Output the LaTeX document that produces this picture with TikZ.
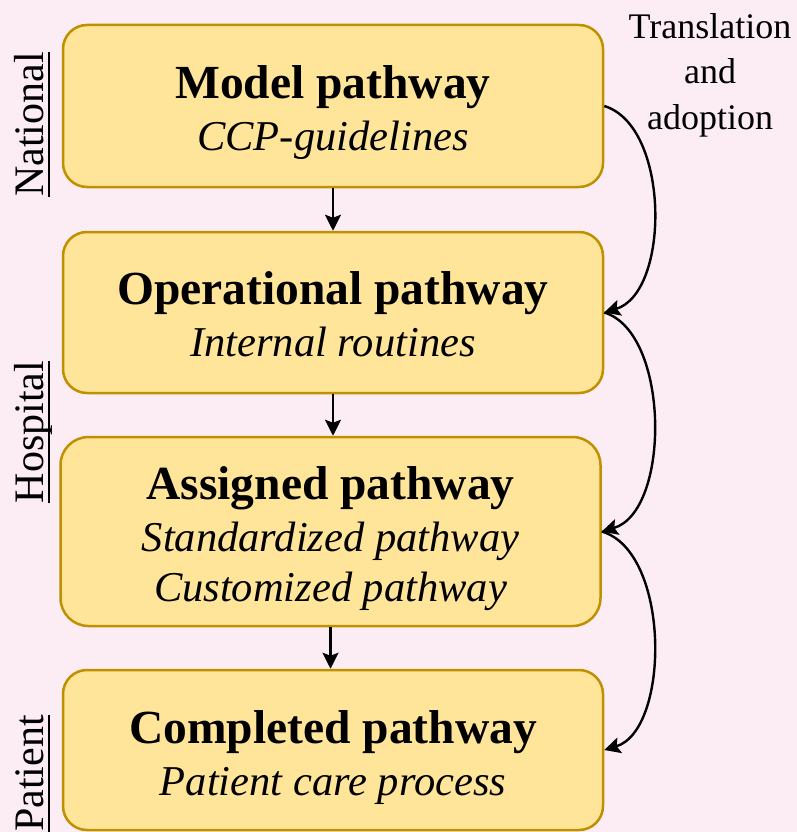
\documentclass[tikz,border=0pt]{standalone}
\usepackage{fontspec}
\setmainfont{Liberation Serif}
\usetikzlibrary{arrows.meta,calc}
\definecolor{bg}{HTML}{FCEDF5}
\definecolor{boxfill}{HTML}{FFE599}
\definecolor{boxline}{HTML}{BF9000}

\begin{document}
\begin{tikzpicture}[x=1pt,y=-1pt,
  stage/.style={draw=boxline, fill=boxfill, line width=2.5pt, inner sep=0pt, minimum width=540pt},
  title/.style={anchor=base, inner sep=0pt, font=\fontsize{47.5}{57}\selectfont\bfseries},
  sub/.style={anchor=base, inner sep=0pt, font=\fontsize{42.5}{51}\selectfont\itshape},
  level/.style={anchor=base, rotate=90, inner sep=0pt, font=\fontsize{42}{50}\selectfont},
  flow/.style={line width=2.4pt, -{Stealth[length=16pt,width=16pt,inset=3pt]}},
]
\fill[bg] (0,0) rectangle (797,832);
\useasboundingbox (0,0) rectangle (797,832);

% pathway stages
\node[stage, rounded corners=24pt, minimum height=162pt] (b1) at (333,106) {};
\node[stage, rounded corners=24pt, minimum height=161pt] (b2) at (333,312.5) {};
\node[stage, rounded corners=28pt, minimum height=189pt] (b3) at (330.5,531.5) {};
\node[stage, rounded corners=24pt, minimum height=160pt] (b4) at (333,750) {};

% stage texts
\node[title] (t1) at (333,99) {Model pathway};
\node[sub]   (s1) at (333,150) {CCP-guidelines};
\node[title] (t2) at (333,304) {Operational pathway};
\node[sub]   (s2) at (333,356) {Internal routines};
\node[title] (t3) at (330.5,499) {Assigned pathway};
\node[sub]   (s3a) at (330.5,551) {Standardized pathway};
\node[sub]   (s3b) at (330.5,601) {Customized pathway};
\node[title] (t4) at (333,743) {Completed pathway};
\node[sub]   (s4) at (333,795) {Patient care process};

% levels on the left
\node[level] (lnat) at (43,124.5) {National};
\node[level] (lhos) at (43,432) {Hospital};
\node[level] (lpat) at (43,773.5) {Patient};
\foreach \n in {lnat,lhos,lpat}
  \draw[line width=2pt] ($(\n.base west)+(6,0)$) -- ($(\n.base east)+(6,0)$);

% label of the side arrows (base = baseline of the last line)
\node[anchor=base, align=center, inner sep=0pt,
      font=\fontsize{36}{45.5}\selectfont] (lab) at (710,129) {Translation\\and\\adoption};

% straight flow
\draw[flow] (b1.south) -- (b1.south |- b2.north);
\draw[flow] (b2.south) -- (b2.south |- b3.north);
\draw[flow] (b3.south) -- (b3.south |- b4.north);

% translation and adoption
\draw[flow] (b1.east) .. controls +(66,20) and +(66,-20) .. (b2.east);
\draw[flow] (b2.east) .. controls +(66,20) and +(69,-20) .. (b3.east);
\draw[flow] (b3.east) .. controls +(69,20) and +(66,-20) .. (b4.east);
\end{tikzpicture}
\end{document}
